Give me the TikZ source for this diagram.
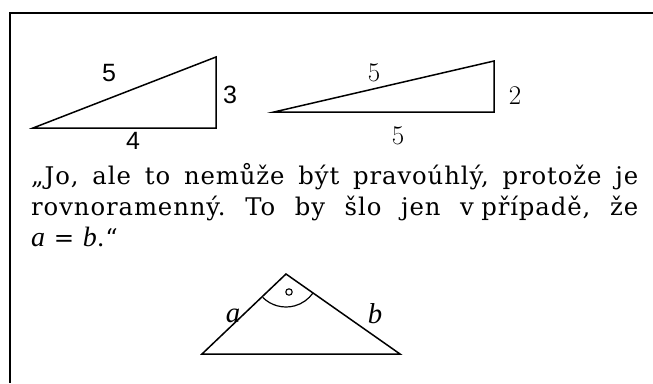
\documentclass[tikz,border=0pt]{standalone}
\usepackage{fontspec}
\newfontfamily\bodyfont{DejaVu Serif}
\newfontfamily\sansnum{Liberation Sans}
\newfontfamily\varfont[Scale=1.15]{Liberation Serif}
\usetikzlibrary{positioning}
\newlength\linewd
\newcommand\firstline{„Jo, ale to nemůže být pravoúhlý, protože je}
\newcommand\var[1]{{\varfont\itshape #1}}
\frenchspacing
% text size and letter spacing so that the first line fills the frame width
\AtBeginDocument{%
  \settowidth\linewd{\bodyfont\fontsize{10}{12}\selectfont\firstline}%
  \pgfmathsetmacro\txtsize{0.93*10*578/\linewd}%
  \pgfmathsetmacro\lspace{0.07*578/44/\txtsize*100}}

\begin{document}
\begin{tikzpicture}[x=1pt, y=-1pt,
  frameline/.style={line width=2pt},
  side/.style={line width=1.5pt, line join=miter},
  numsans/.style={font=\sansnum\fontsize{25}{28}\selectfont, inner sep=0pt},
  numserif/.style={font=\fontsize{27}{30}\selectfont, inner sep=0pt},
  sidelabel/.style={font=\fontsize{25}{28}\selectfont, inner sep=0pt},
  textline/.style={anchor=base west, inner sep=0pt,
                   font=\bodyfont\fontsize{\txtsize}{\txtsize}\selectfont\addfontfeature{LetterSpace=\lspace}}
]
\useasboundingbox (0,0) rectangle (653,383);

% frame (only top and left edge visible)
\coordinate (fTR) at (653,12.5);
\coordinate (fTL) at (9.5,12.5);
\coordinate (fBL) at (9.5,383);
\draw[frameline] (fTR) -- (fTL) -- (fBL);

% triangle 3-4-5
\coordinate (A1) at (33,128);
\coordinate (B1) at (216,128);
\coordinate (C1) at (216,57);
\draw[side] (A1) -- (B1) -- (C1) -- cycle;
\node[numsans] (hyp1) at (109,73)  {5};
\node[numsans] (leg1) at (230,95)  {3};
\node[numsans] (base1) at (133,141) {4};

% triangle 5-5-2
\coordinate (A2) at (274,112);
\coordinate (B2) at (494,112);
\coordinate (C2) at (494,61);
\draw[side] (A2) -- (B2) -- (C2) -- cycle;
\node[numserif] (hyp2) at (374,73)  {5};
\node[numserif] (leg2) at (515,96)  {2};
\node[numserif] (base2) at (398,136) {5};

% quoted text
\node[textline] (line1) at (31,184) {\makebox[607pt][s]{\firstline}};
\node[textline] (line2) at (31,215) {\makebox[607pt][s]{rovnoramenný. To by šlo jen v\hspace{0.3em}případě, že}};
\node[textline] (line3) at (31,246) {\var{a} = \var{b}.“};

% isosceles right triangle
\coordinate (A3) at (202,354);
\coordinate (B3) at (400,354);
\coordinate (C3) at (286,274);
\draw[side] (A3) -- (B3) -- (C3) -- cycle;
\draw[line width=1.2pt] (C3) ++(135:33) arc[start angle=135, end angle=35, radius=33];
\draw[line width=1.1pt] (289,292) circle[radius=3.2];
\node[sidelabel] (la) at (233,316) {\var{a}};
\node[sidelabel] (lb) at (375,314) {\var{b}};
\end{tikzpicture}
\end{document}
